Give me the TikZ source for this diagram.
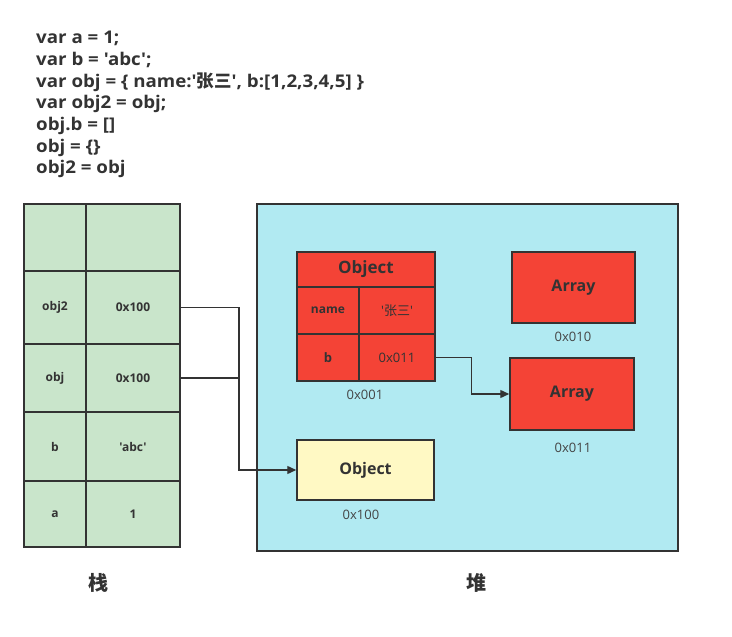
\documentclass[tikz,border=0pt]{standalone}
\usepackage{fontspec}
\newfontfamily\lat{Open Sans}
\newfontfamily\latw{Open Sans}[FakeStretch=1.07]
\newfontfamily\cjk{Noto Sans CJK SC}
\usetikzlibrary{arrows.meta}
\definecolor{stk}{HTML}{C9E5CB}
\definecolor{heap}{HTML}{B1EAF2}
\definecolor{redc}{HTML}{F44336}
\definecolor{yel}{HTML}{FFF9C4}
\definecolor{edge}{HTML}{333333}
\definecolor{addr}{HTML}{444444}
\tikzset{
  cell/.style={draw=edge,line width=1.5pt,fill=stk,inner sep=0pt,font=\lat\fontsize{12}{14}\selectfont\bfseries,text=edge},
  rbox/.style={draw=edge,line width=1.5pt,fill=redc,inner sep=0pt,text=edge},
  addrlbl/.style={font=\lat\fontsize{13}{15}\selectfont,text=addr,inner sep=0pt},
  conn/.style={draw=edge,line width=1.4pt},
  arr/.style={conn,-{Triangle[length=9pt,width=8pt]}},
}
\begin{document}
\begin{tikzpicture}[x=1pt,y=-1pt]
\useasboundingbox (0,0) rectangle (732,637);
% code
\node[anchor=north west,inner sep=0pt,align=left,text=edge,font=\latw\fontsize{17.5}{21.7}\selectfont\bfseries] (code) at (36,31)
{var a = 1;\\var b = 'abc';\\var obj = \{ name:'{\cjk 张三}', b:[1,2,3,4,5] \}\\var obj2 = obj;\\obj.b = []\\obj = \{\}\\obj2 = obj};
% stack
\node[cell,minimum width=62pt,minimum height=67pt] (e1) at (55,237.5) {};
\node[cell,minimum width=94pt,minimum height=67pt] (e2) at (133,237.5) {};
\node[cell,minimum width=62pt,minimum height=73pt] (o2k) at (55,307.5) {obj2};
\node[cell,minimum width=94pt,minimum height=73pt] (o2v) at (133,307.5) {0x100};
\node[cell,minimum width=62pt,minimum height=68pt] (ok) at (55,378) {obj};
\node[cell,minimum width=94pt,minimum height=68pt] (ov) at (133,378) {0x100};
\node[cell,minimum width=62pt,minimum height=69pt] (bk) at (55,446.5) {b};
\node[cell,minimum width=94pt,minimum height=69pt] (bv) at (133,446.5) {'abc'};
\node[cell,minimum width=62pt,minimum height=66pt] (ak) at (55,514) {a};
\node[cell,minimum width=94pt,minimum height=66pt] (av) at (133,514) {1};
% heap
\node[draw=edge,line width=1.5pt,fill=heap,minimum width=421pt,minimum height=347pt,inner sep=0pt] (heapbox) at (467.5,377.5) {};
% object 0x001
\node[rbox,minimum width=138pt,minimum height=35pt,font=\lat\fontsize{17}{20}\selectfont\bfseries] (objh) at (366,269.5) {Object};
\node[rbox,minimum width=62pt,minimum height=47pt,font=\lat\fontsize{12}{14}\selectfont\bfseries] (namek) at (328,310.5) {name};
\node[rbox,minimum width=76pt,minimum height=47pt,font=\lat\fontsize{13}{15}\selectfont] (namev) at (397,310.5) {'{\cjk 张三}'};
\node[rbox,minimum width=62pt,minimum height=47pt,font=\lat\fontsize{13}{15}\selectfont\bfseries] (bk2) at (328,357.5) {b};
\node[rbox,minimum width=76pt,minimum height=47pt,font=\lat\fontsize{13}{15}\selectfont] (bv2) at (397,357.5) {0x011};
\node[addrlbl] (l001) at (365,395) {0x001};
% arrays
\node[rbox,minimum width=123pt,minimum height=71pt,font=\lat\fontsize{16}{19}\selectfont\bfseries] (arr1) at (573.5,287.5) {Array};
\node[addrlbl] (l010) at (573,337) {0x010};
\node[rbox,minimum width=124pt,minimum height=72pt,font=\lat\fontsize{16}{19}\selectfont\bfseries] (arr2) at (572,394) {Array};
\node[addrlbl] (l011) at (573,448) {0x011};
% yellow object
\node[draw=edge,line width=1.5pt,fill=yel,minimum width=137pt,minimum height=60pt,inner sep=0pt,text=edge,font=\lat\fontsize{16}{19}\selectfont\bfseries] (yobj) at (365.5,470) {Object};
\node[addrlbl] (l100) at (361,515) {0x100};
% labels
\node[text=edge,font=\cjk\fontsize{20}{24}\selectfont\bfseries] (zhan) at (98,583) {栈};
\node[text=edge,font=\cjk\fontsize{20}{24}\selectfont\bfseries] (dui) at (476,583) {堆};
% connectors
\coordinate (j) at (239,378);
\draw[conn] (o2v.east) -| (j);
\draw[conn] (ov.east) -- (j);
\draw[arr] (j) |- (yobj.west);
\draw[arr] (bv2.east) -- ++(36,0) |- (arr2.west);
\end{tikzpicture}
\end{document}
